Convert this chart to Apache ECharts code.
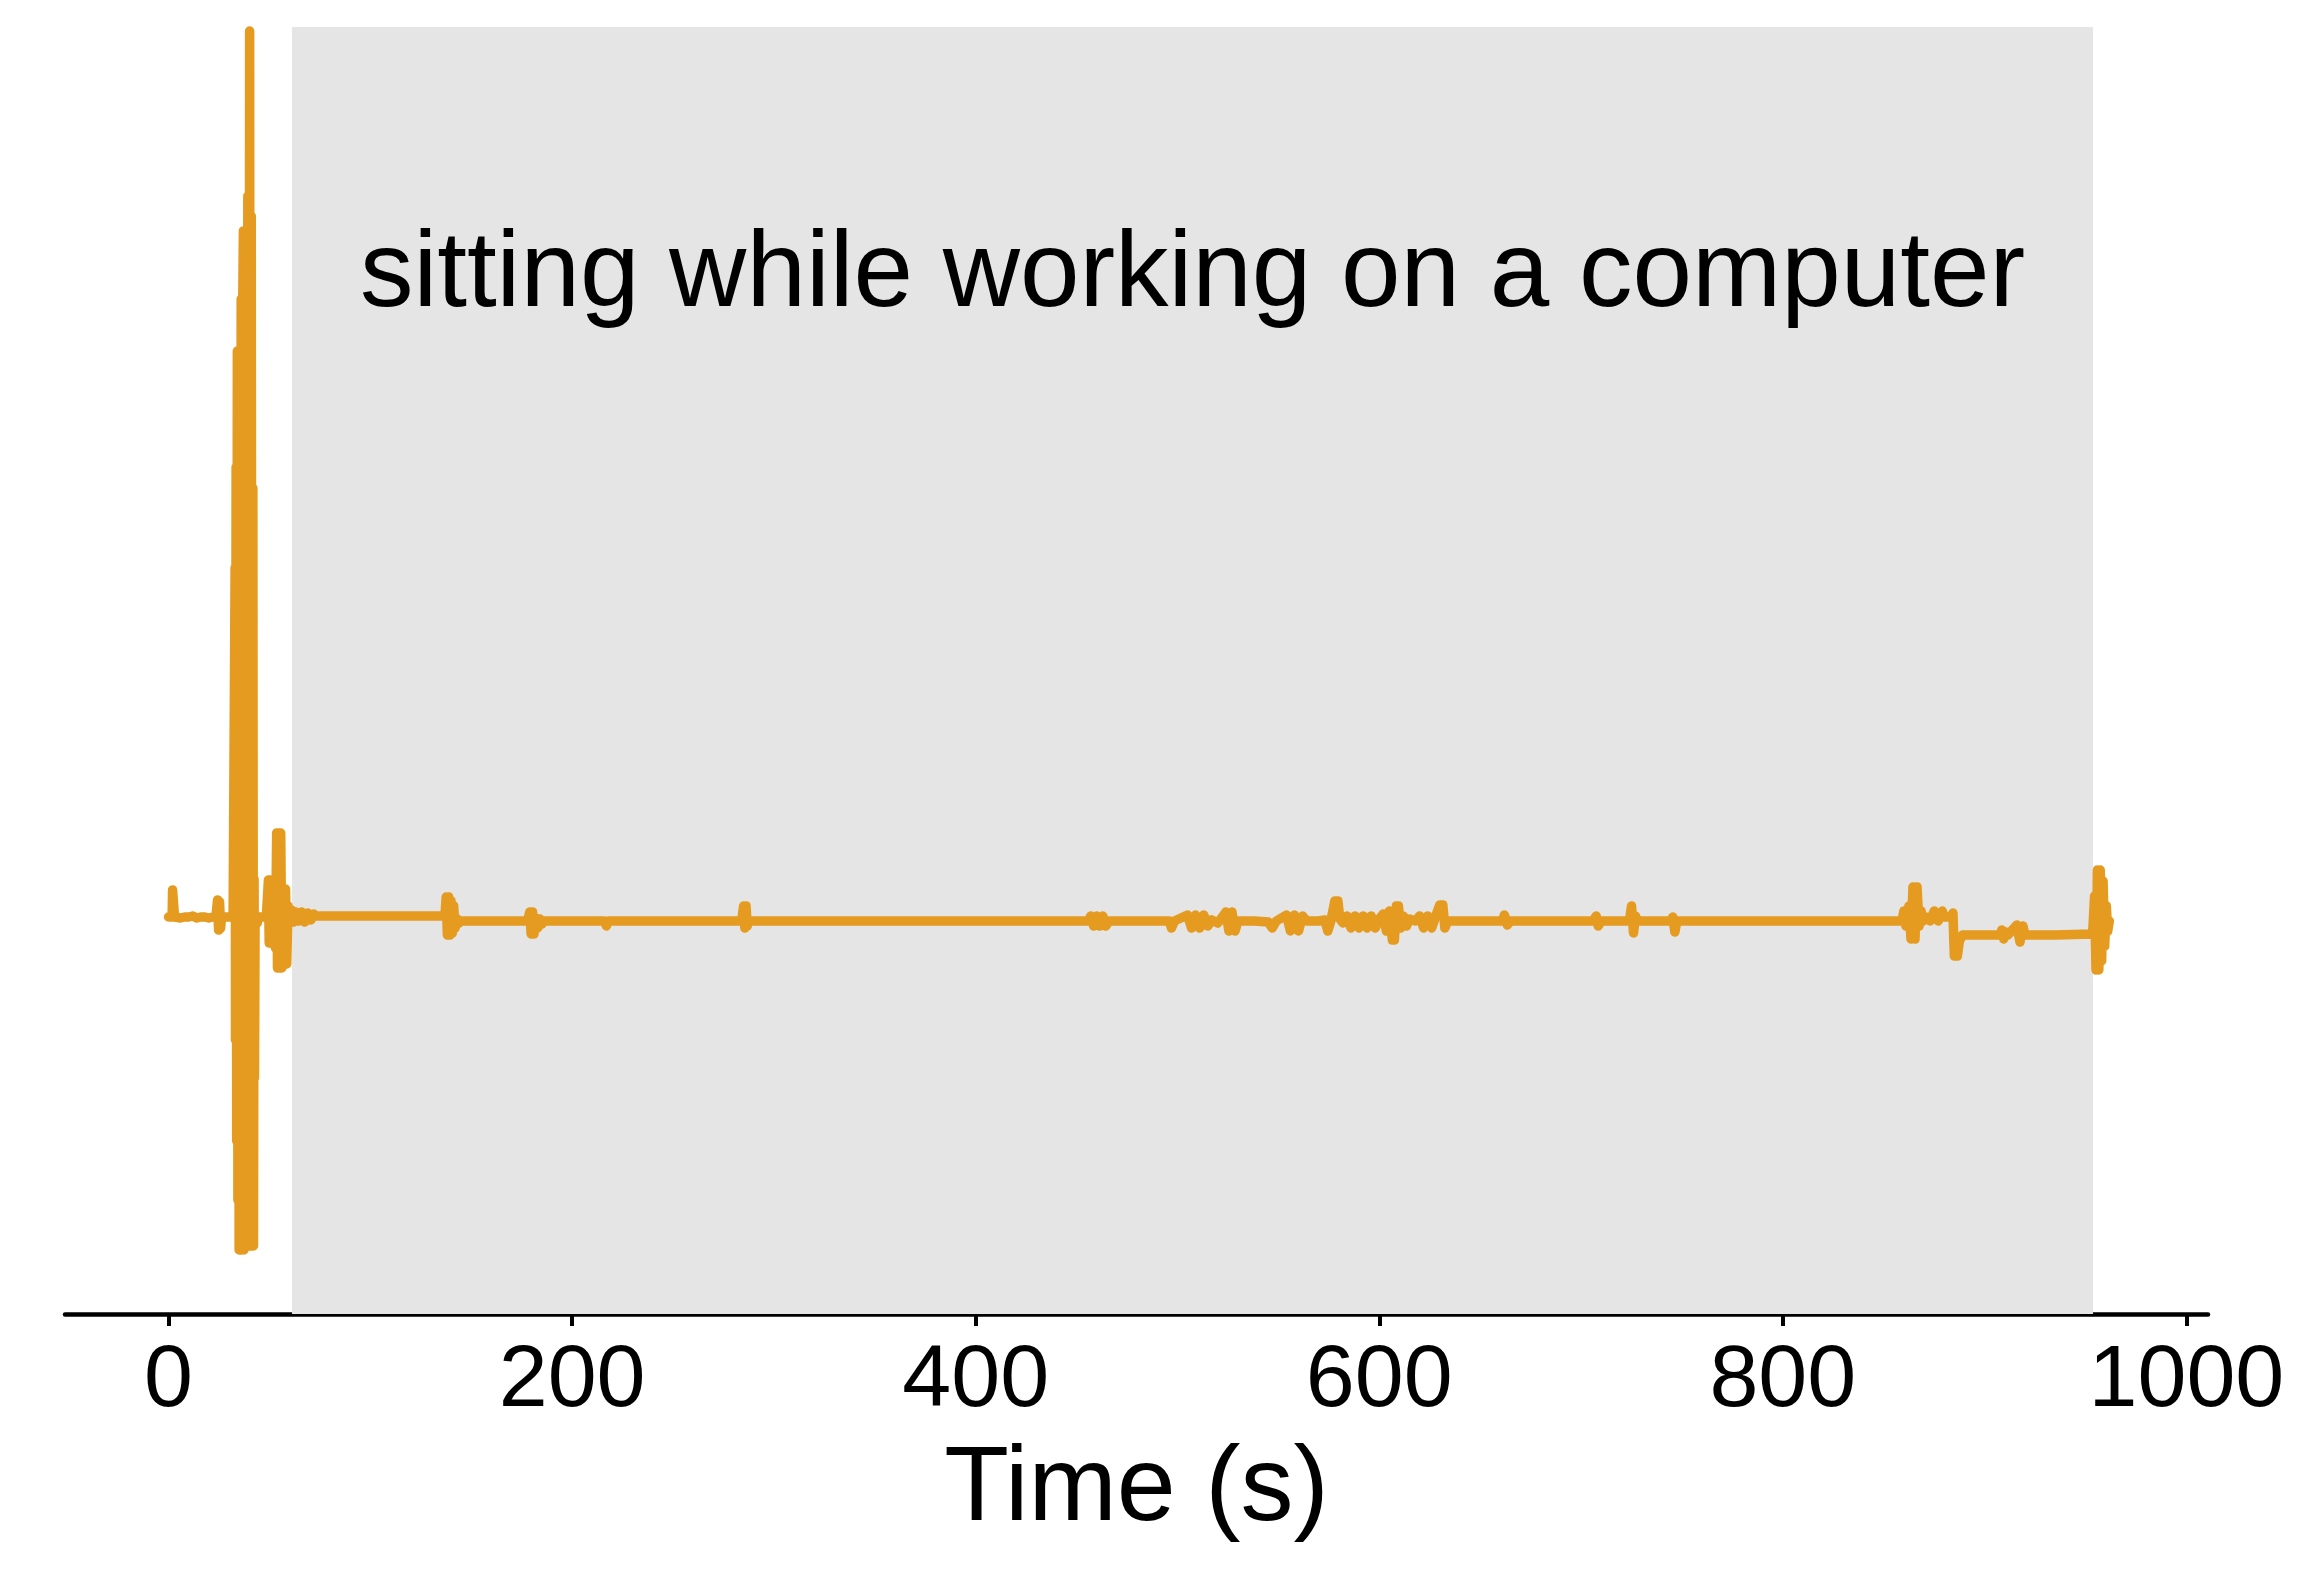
<!DOCTYPE html>
<html>
<head>
<meta charset="utf-8">
<script src="https://cdn.jsdelivr.net/npm/echarts@6/dist/echarts.min.js"></script>
<style>
html,body{margin:0;padding:0;background:#fff;}
#chart{width:2313px;height:1576px;}
</style>
</head>
<body>
<div id="chart"></div>
<script>
// x tick labels (seconds)
const tickValues = [0, 200, 400, 600, 800, 1000];
// shaded activity span (seconds) and its label
const activitySpan = [61.2, 953.7];
const activityLabel = 'sitting while working on a computer';
const xAxisName = 'Time (s)';
// signal: time (s)
const signalTime = [
  0, 1.8, 2.0, 2.8, 3.0, 6, 8, 10, 12, 14, 16, 18, 20, 22, 23.5,
  24.3, 24.8, 25.3, 25.8, 26.3, 28, 30, 32,
  32.9, 33.0, 33.2, 33.5, 33.8, 34.1, 34.4, 34.7, 35.0, 35.4, 35.7, 36.0, 36.4, 36.8, 37.1, 37.4, 37.8, 38.2, 38.5, 38.9, 39.3, 39.7, 40.2, 40.6, 41.0, 41.4, 41.8, 42.1, 42.4, 42.6, 42.9,
  43.5, 44.0, 44.5, 47, 48.5,
  49.5, 49.9, 50.4, 50.9, 51.4, 51.9, 52.5, 53.0, 53.6, 54.0, 54.5, 55.0, 55.6, 56.2, 56.9, 57.4, 58.0, 58.6, 59.2, 59.6,
  61, 62, 63, 64.5, 66, 67.5, 69, 70.5, 72, 73, 100, 136,
  137, 137.6, 138.2, 138.8, 139.4, 140.0, 140.6, 141.3, 142, 143, 144, 145,
  150, 178,
  179, 179.7, 180.4, 181.1, 182, 183, 184, 185, 186,
  200, 216, 217, 218, 284,
  285, 285.6, 286.2, 286.8, 287.5,
  350, 456,
  457, 458.5, 460, 461.5, 463, 464.5, 466,
  490, 496, 497, 498.5,
  505, 507, 509, 511, 513, 515, 517, 520,
  524, 525.5, 527, 528.5, 530,
  538, 545, 547, 549,
  554, 556, 558, 560, 562, 564, 570,
  573, 574.5, 576, 578, 579.5, 580.5, 582,
  584, 586, 588, 590, 592, 594, 596, 598, 600,
  602, 603.5, 605, 606.5, 607.5, 608.5, 609.5, 610.5, 612, 613.5, 615,
  618, 620, 622, 624, 626, 628, 630, 631.5, 632.5, 634,
  650, 661, 662, 663.5, 665, 706, 707.5, 708.5, 710,
  724, 725, 726, 727, 728,
  744.5, 745.5, 746.5, 747.5,
  800, 859,
  860, 861, 862.5, 863.5, 864.5, 865.5, 866.5, 867.5, 868.5, 869.5,
  871, 873, 875, 877, 879, 880, 883.5,
  884.3, 885, 886.5, 887.5, 889,
  900, 908,
  908.5, 909.5, 910.5, 911.5,
  916, 917.5, 919, 920,
  935, 953.5,
  954.5, 955.2, 955.9, 956.6, 957.3, 958.0, 958.7, 959.5, 960.3, 961.0, 961.8
];
// signal: amplitude (arbitrary units, 0 = resting level)
const signalValue = [
  -0.01, -0.01, 0.26, 0.26, -0.01, -0.02, -0.01, -0.01, 0.0, -0.02, -0.01, -0.01, -0.02, -0.01, -0.01,
  0.16, -0.14, 0.14, -0.12, -0.01, -0.01, -0.01, -0.01,
  0.0, 3.48, -1.24, 4.49, -2.25, 5.65, -2.84, 5.65, -3.34, 5.65, -3.34, 6.17, -3.34, 6.17, 6.85, -3.34, 6.85, -3.05, 6.85, -3.05, 7.2, -3.30, 8.85, -3.30, 7.0, -3.30, 4.28, -3.30, 0.37, -1.62, -0.02,
  -0.02, -0.07, -0.01, -0.01, 0.0,
  0.36, -0.27, 0.36, -0.27, 0.36, -0.27, 0.2, -0.32, 0.83, -0.52, 0.83, -0.52, 0.83, -0.52, 0.27, -0.48, 0.27, -0.48, 0.1, -0.02,
  0.06, -0.06, 0.04, -0.05, 0.04, -0.06, 0.03, -0.04, 0.02, 0.0, 0.0, 0.0,
  0.0, 0.19, -0.19, 0.19, -0.19, 0.15, -0.17, 0.1, -0.12, -0.03, -0.07, -0.05,
  -0.05, -0.05,
  0.04, -0.18, 0.04, -0.18, -0.02, -0.12, -0.03, -0.08, -0.05,
  -0.05, -0.05, -0.10, -0.05, -0.05,
  0.10, -0.12, 0.10, -0.10, -0.05,
  -0.05, -0.05,
  0.0, -0.10, 0.0, -0.10, 0.0, -0.10, -0.05,
  -0.05, -0.05, -0.12, -0.05,
  0.01, -0.12, 0.01, -0.12, 0.01, -0.10, -0.04, -0.07,
  0.04, -0.15, 0.04, -0.15, -0.05,
  -0.05, -0.06, -0.12, -0.05,
  0.01, -0.15, 0.01, -0.15, 0.0, -0.05, -0.05,
  -0.04, -0.15, -0.05, 0.15, 0.15, -0.03, -0.07,
  0.0, -0.12, 0.0, -0.12, 0.0, -0.12, 0.0, -0.12, -0.03,
  0.02, -0.15, 0.05, -0.24, -0.24, 0.10, 0.10, -0.12, 0.0, -0.10, -0.03,
  -0.05, 0.0, -0.12, 0.0, -0.12, 0.0, 0.11, 0.11, -0.12, -0.05,
  -0.05, -0.05, 0.01, -0.09, -0.05, -0.05, 0.0, -0.10, -0.05,
  -0.05, 0.10, -0.17, 0.0, -0.05,
  -0.05, -0.01, -0.16, -0.05,
  -0.05, -0.05,
  0.05, -0.10, 0.10, -0.23, 0.29, -0.23, 0.29, -0.10, 0.05, -0.05,
  -0.01, -0.05, 0.05, -0.05, 0.05, -0.01, -0.01,
  0.03, -0.40, -0.40, -0.25, -0.19,
  -0.19, -0.19,
  -0.14, -0.23, -0.16, -0.19,
  -0.09, -0.26, -0.10, -0.19,
  -0.19, -0.18,
  0.2, -0.54, 0.46, -0.54, 0.46, -0.45, 0.35, -0.30, 0.10, -0.15, -0.05
];

const FONT = '"Liberation Sans", Arial, Helvetica, sans-serif';
const chart = echarts.init(document.getElementById('chart'), null, {renderer: 'canvas'});
const seriesData = signalTime.map((t, i) => [t, signalValue[i]]);

chart.setOption({
  animation: false,
  backgroundColor: '#ffffff',
  grid: {left: 65, right: 105, top: 27, bottom: 262, containLabel: false},
  xAxis: {
    type: 'value',
    min: -51.3,
    max: 1010.7,
    name: xAxisName,
    nameLocation: 'middle',
    nameGap: 124,
    nameTextStyle: {fontFamily: FONT, fontSize: 106, color: '#000'},
    splitLine: {show: false},
    axisLine: {show: true, onZero: false, lineStyle: {color: '#000', width: 4.5}},
    axisTick: {show: true, inside: false, length: 12, lineStyle: {color: '#000', width: 4}, customValues: tickValues},
    axisLabel: {show: true, margin: 24, fontFamily: FONT, fontSize: 88, color: '#000', customValues: tickValues,
      formatter: (v) => String(v)}
  },
  yAxis: {
    type: 'value',
    min: -3.98,
    max: 8.89,
    show: false,
    splitLine: {show: false}
  },
  series: [
    {
      type: 'line',
      z: 1,
      data: [],
      silent: true,
      markArea: {
        silent: true,
        itemStyle: {color: '#e5e5e5'},
        label: {
          show: true,
          position: 'insideTop',
          distance: 196,
          formatter: activityLabel,
          fontFamily: FONT,
          fontSize: 107,
          color: '#000'
        },
        data: [[{xAxis: activitySpan[0]}, {xAxis: activitySpan[1]}]]
      }
    },
    {
      type: 'line',
      z: 3,
      data: seriesData,
      showSymbol: false,
      symbol: 'none',
      sampling: null,
      clip: false,
      lineStyle: {color: '#e59a20', width: 9.5, join: 'round', cap: 'round'}
    }
  ]
});
</script>
</body>
</html>
